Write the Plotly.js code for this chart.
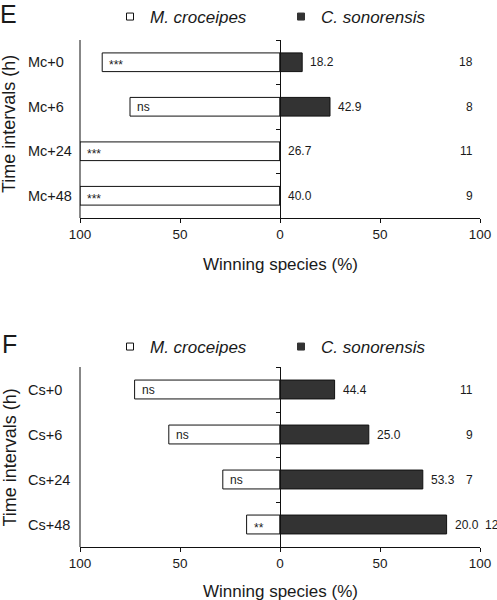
<!DOCTYPE html>
<html>
<head>
<meta charset="utf-8">
<script src="https://cdn.plot.ly/plotly-3.0.1.min.js"></script>
<style>html,body{margin:0;padding:0;background:#fff;}#chart{width:497px;height:600px;}</style>
</head>
<body>
<div id="chart"></div>
<script>
// ---- data ----
const catsE = ['Mc+0', 'Mc+6', 'Mc+24', 'Mc+48'];
const mcE   = [88.9, 75.0, 100, 100];        // M. croceipes winning (%)
const csE   = [11.1, 25.0, 0, 0];            // C. sonorensis winning (%)
const pctE  = ['18.2', '42.9', '26.7', '40.0'];
const nE    = ['18', '8', '11', '9'];
const sigE  = ['***', 'ns', '***', '***'];

const catsF = ['Cs+0', 'Cs+6', 'Cs+24', 'Cs+48'];
const mcF   = [72.7, 55.6, 28.6, 16.7];
const csF   = [27.3, 44.4, 71.4, 83.3];
const pctF  = ['44.4', '25.0', '53.3', '20.0'];
const nF    = ['11', '9', '7', '12'];
const sigF  = ['ns', 'ns', 'ns', '**'];

const xTickVals = [-100, -50, 0, 50, 100];
const xTickText = ['100', '50', '0', '50', '100'];
const nameMc = '<i>M. croceipes</i>';
const nameCs = '<i>C. sonorensis</i>';
const xTitle = 'Winning species (%)';
const yTitle = 'Time intervals (h)';

// ---- style ----
const FONT = 'Liberation Sans, Arial, Helvetica, sans-serif';
const TXT = '#1a1a1a';
const DARK = '#333333';
const W = 497, H = 600;
const M = {l: 80, r: 17, t: 40, b: 53, autoexpand: false};
const plotW = W - M.l - M.r;
const pxPerUnit = plotW / 200;
const plotH = H - M.t - M.b;
function pyToPaper(py) { return (H - M.b - py) / plotH; }
function pxToPaper(px) { return (px - M.l) / plotW; }

const domE = [pyToPaper(218), 1];
const domF = [0, pyToPaper(367)];

function panelTraces(cats, mc, cs, xa, ya, lg) {
  return [
    {type: 'bar', orientation: 'h', y: cats, x: mc.map(v => -v), xaxis: xa, yaxis: ya,
     width: 0.42, marker: {color: '#ffffff', line: {color: '#111', width: 1}},
     showlegend: false, hoverinfo: 'skip'},
    {type: 'bar', orientation: 'h', y: cats, x: cs, xaxis: xa, yaxis: ya,
     width: 0.42, marker: {color: DARK, line: {color: '#111', width: 1}},
     showlegend: false, hoverinfo: 'skip'},
    {type: 'scatter', mode: 'markers', x: [null], y: [null], xaxis: xa, yaxis: ya,
     name: nameMc, legend: lg,
     marker: {symbol: 'square', size: 7, color: '#ffffff', line: {color: '#111', width: 1}}},
    {type: 'scatter', mode: 'markers', x: [null], y: [null], xaxis: xa, yaxis: ya,
     name: nameCs, legend: lg,
     marker: {symbol: 'square', size: 7, color: DARK, line: {color: DARK, width: 1}}}
  ];
}

function panelAnnotations(cats, mc, cs, pct, n, sig, xr, yr) {
  const out = [];
  cats.forEach((c, i) => {
    out.push({xref: 'paper', x: pxToPaper(26), xanchor: 'left', yref: yr, y: c,
              text: c, showarrow: false, font: {family: FONT, size: 14.5, color: TXT}});
    const isStar = sig[i].indexOf('*') >= 0;
    out.push({xref: xr, x: -mc[i], xanchor: 'left', xshift: 5, yref: yr, y: c,
              yshift: isStar ? -3 : 0,
              text: sig[i], showarrow: false, font: {family: FONT, size: 12, color: TXT}});
    out.push({xref: xr, x: cs[i], xanchor: 'left', xshift: 6, yref: yr, y: c,
              text: pct[i], showarrow: false, font: {family: FONT, size: 12, color: TXT}});
    // n label: right-aligned near the right end, pushed right if it would hit the % label
    const pctRight = cs[i] * pxPerUnit + 8 + 24;          // px from 0 line
    const nWidth = n[i].length * 6.7;
    const defRight = 193;                                  // px from 0 line
    let ann;
    if (pctRight + 9 + nWidth > defRight) {
      ann = {x: 100, xanchor: 'left', xshift: (pctRight + 4) - 200};
    } else {
      ann = {x: 100, xanchor: 'right', xshift: defRight - 200 + 2};
    }
    out.push(Object.assign(ann, {xref: xr, yref: yr, y: c, text: n[i], showarrow: false,
              font: {family: FONT, size: 12, color: TXT}}));
  });
  return out;
}

const data = [].concat(
  panelTraces(catsE, mcE, csE, 'x', 'y', 'legend'),
  panelTraces(catsF, mcF, csF, 'x2', 'y2', 'legend2')
);

function xAxis(anchor) {
  return {anchor: anchor, range: [-100, 100], tickmode: 'array', tickvals: xTickVals, ticktext: xTickText,
          ticks: 'outside', ticklen: 4, tickcolor: '#111', showline: true, linecolor: '#111', linewidth: 1,
          showgrid: false, zeroline: false, fixedrange: true, automargin: false,
          tickfont: {family: FONT, size: 13.5, color: TXT}};
}
function yAxis(dom, cats) {
  return {domain: dom, anchor: 'free', position: 0.5, type: 'category', categoryorder: 'array',
          categoryarray: cats, range: [3.5, -0.5], showline: true, linecolor: '#111', linewidth: 1,
          ticks: 'outside', tickson: 'boundaries', ticklen: 4, tickcolor: '#111', automargin: false,
          showticklabels: false, showgrid: false, zeroline: false, fixedrange: true};
}

const annotations = [].concat(
  panelAnnotations(catsE, mcE, csE, pctE, nE, sigE, 'x', 'y'),
  panelAnnotations(catsF, mcF, csF, pctF, nF, sigF, 'x2', 'y2'),
  [
    {xref: 'paper', x: pxToPaper(9), xanchor: 'center', yref: 'y domain', y: 0.5, yshift: 5,
     text: yTitle, textangle: -90, showarrow: false, font: {family: FONT, size: 18, color: TXT}},
    {xref: 'paper', x: pxToPaper(9), xanchor: 'center', yref: 'y2 domain', y: 0.5, yshift: -0.5,
     text: yTitle, textangle: -90, showarrow: false, font: {family: FONT, size: 18, color: TXT}},
    {xref: 'x domain', x: 0.5, xanchor: 'center', yref: 'paper', y: pyToPaper(264), yanchor: 'middle',
     text: xTitle, showarrow: false, font: {family: FONT, size: 17, color: TXT}},
    {xref: 'x2 domain', x: 0.5, xanchor: 'center', yref: 'paper', y: pyToPaper(591), yanchor: 'middle',
     text: xTitle, showarrow: false, font: {family: FONT, size: 17, color: TXT}},
    {xref: 'paper', x: pxToPaper(0), xanchor: 'left', yref: 'paper', y: pyToPaper(0), yanchor: 'top',
     borderpad: 0, borderwidth: 0,
     text: 'E', showarrow: false, font: {family: FONT, size: 25, color: TXT}},
    {xref: 'paper', x: pxToPaper(0), xanchor: 'left', yref: 'paper', y: pyToPaper(344), yanchor: 'middle',
     text: 'F', showarrow: false, font: {family: FONT, size: 25, color: TXT}}
  ]
);

const legendBase = {orientation: 'h', xanchor: 'left', yanchor: 'middle', bgcolor: 'rgba(0,0,0,0)',
  font: {family: FONT, size: 17, color: TXT}, entrywidth: 126, entrywidthmode: 'pixels',
  itemwidth: 30, borderwidth: 0, tracegroupgap: 0};

const layout = {
  width: W, height: H, margin: M, paper_bgcolor: '#ffffff', plot_bgcolor: '#ffffff',
  font: {family: FONT, color: TXT},
  barmode: 'relative', bargap: 0,
  xaxis: xAxis('y'), yaxis: yAxis(domE, catsE),
  xaxis2: xAxis('y2'), yaxis2: yAxis(domF, catsF),
  legend: Object.assign({x: pxToPaper(110), y: pyToPaper(17)}, legendBase),
  legend2: Object.assign({x: pxToPaper(110), y: pyToPaper(347)}, legendBase),
  annotations: annotations,
  shapes: [
    {type: 'line', xref: 'x domain', x0: 0, x1: 0, yref: 'y domain', y0: 0, y1: 1, line: {color: '#111', width: 1}},
    {type: 'line', xref: 'x2 domain', x0: 0, x1: 0, yref: 'y2 domain', y0: 0, y1: 1, line: {color: '#111', width: 1}}
  ]
};

Plotly.newPlot('chart', data, layout, {staticPlot: true, displayModeBar: false});
</script>
</body>
</html>
